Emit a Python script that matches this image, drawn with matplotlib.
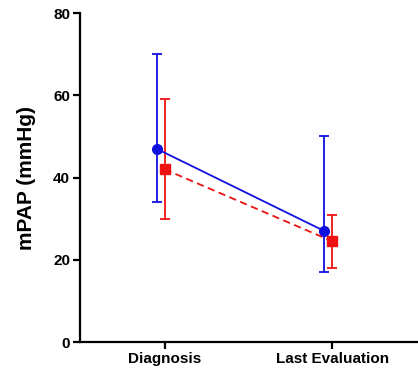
import matplotlib
matplotlib.use("Agg")
import matplotlib.pyplot as plt
import numpy as np

plt.rcParams['font.family'] = ['Liberation Sans', 'DejaVu Sans']

categories = ["Diagnosis", "Last Evaluation"]
blue_mean = [47, 27]
blue_upper = [70, 50]
blue_lower = [34, 17]
red_mean = [42, 24.5]
red_upper = [59, 31]
red_lower = [30, 18]

fig = plt.figure(figsize=(4.18, 3.75), dpi=100)
ax = fig.add_axes([0.191, 0.088, 0.807, 0.877])

x = np.arange(len(categories))
off = -0.048

def draw(xs, mean, lo, hi, color, marker, ms, ls):
    mean = np.array(mean); lo = np.array(lo); hi = np.array(hi)
    yerr = [mean - lo, hi - mean]
    ax.errorbar(xs, mean, yerr=yerr, fmt='none', ecolor=color, elinewidth=1.3,
                capsize=3.8, capthick=1.3, zorder=2)
    ax.plot(xs, mean, color=color, linestyle=ls, linewidth=1.3, zorder=3)
    ax.plot(xs, mean, linestyle='none', marker=marker, markersize=ms,
            color=color, zorder=4)

draw(x + off, blue_mean, blue_lower, blue_upper, '#1010e0', 'o', 7, '-')
draw(x, red_mean, red_lower, red_upper, '#ee1111', 's', 6.5, (0, (4, 2.5)))

ax.set_xlim(-0.506, 1.506)
ax.set_ylim(0, 80)
ax.set_yticks([0, 20, 40, 60, 80])
ax.set_xticks(x)
ax.set_xticklabels(categories, fontsize=11, fontweight='bold')
for lab in ax.get_yticklabels():
    lab.set_fontweight('bold')
    lab.set_fontsize(11)
ax.set_ylabel("mPAP (mmHg)", fontsize=15, fontweight='bold', labelpad=12)
for s in ['top', 'right']:
    ax.spines[s].set_visible(False)
for s in ['left', 'bottom']:
    ax.spines[s].set_linewidth(1.6)
ax.tick_params(axis='both', direction='out', length=5, width=1.6, pad=2)
ax.tick_params(axis='x', pad=2)
ax.spines['left'].set_bounds(0, 80)

fig.savefig("out.png", dpi=100)
